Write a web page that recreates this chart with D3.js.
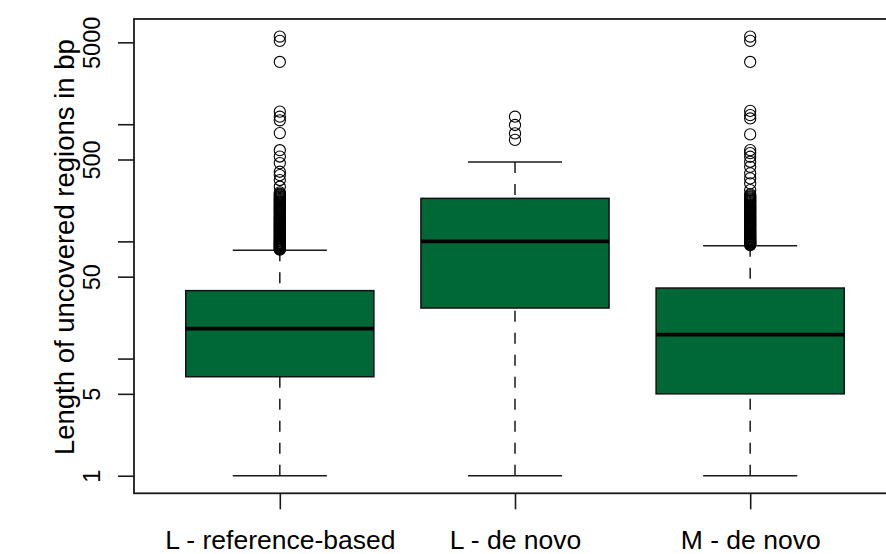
<!DOCTYPE html>
<html>
<head>
<meta charset="utf-8">
<script src="https://cdn.jsdelivr.net/npm/d3@7"></script>
<style>
  html, body { margin: 0; padding: 0; background: #ffffff; }
  svg { display: block; }
  text { font-family: "Liberation Sans", Arial, Helvetica, sans-serif; fill: #000; }
</style>
</head>
<body>
<script>
// Box-plot summaries of uncovered region lengths (bp)
const categories = ["L - reference-based", "L - de novo", "M - de novo"];
const whiskerLow = [1, 1, 1];
const quartile1  = [7, 27, 5];
const medians    = [18, 100, 16];
const quartile3  = [38, 233, 40];
const whiskerHigh = [84, 475, 92];

// Points beyond the upper whisker, per category
const outliersRefL = [5600, 5150, 3400, 1280, 1160, 1080, 840, 600, 530, 466, 393, 368, 334, 293,
  262, 255, 250, 245, 240, 235, 230, 226, 222, 218, 214, 210, 206, 202, 198, 195, 192, 189,
  186, 183, 180, 177, 174, 171, 168, 165, 162, 160, 157, 155, 152, 150, 148, 145, 143, 141,
  139, 137, 135, 133, 131, 129, 127, 125, 123, 121, 120, 118, 116, 114, 113, 111, 110, 108,
  107, 105, 104, 102, 101, 100, 98, 97, 96, 95, 94, 93, 92, 91, 90, 89, 88, 87, 86, 85];
const outliersDenovoL = [1160, 985, 835, 735];
const outliersDenovoM = [5600, 5150, 3400, 1300, 1196, 1120, 819, 601, 567, 528, 478, 433, 381, 345, 313, 274,
  252, 247, 242, 237, 232, 228, 224, 220, 216, 212, 208, 204, 200, 197, 194, 191, 188, 185,
  182, 179, 176, 173, 170, 167, 164, 161, 159, 156, 154, 151, 149, 147, 144, 142, 140, 138,
  136, 134, 132, 130, 128, 126, 124, 122, 121, 119, 117, 115, 114, 112, 111, 109, 108, 106,
  105, 104, 102, 101, 100, 99, 98, 97, 96, 95, 94, 93];
const outliers = [outliersRefL, outliersDenovoL, outliersDenovoM];

// Axis ticks: every tick is marked, only some carry a label
const yTicks = [1, 5, 10, 50, 100, 500, 1000, 5000];
const yTickLabels = [1, 5, 50, 500, 5000];
const yTitle = "Length of uncovered regions in bp";

const width = 886, height = 554;
const plot = { left: 134, right: 896, top: 19, bottom: 493.3 };
const boxFill = "#006837";
const font = "'Liberation Sans', Arial, Helvetica, sans-serif";

const svg = d3.select("body").append("svg")
  .attr("width", width).attr("height", height);

// x: category positions 1..n, padded by 4% like base graphics
const n = categories.length;
const xPad = 0.04 * n;
const x = d3.scaleLinear()
  .domain([0.5 - xPad, n + 0.5 + xPad])
  .range([plot.left, plot.right]);

// y: log scale spanning all values, padded by 4% in log space
const allVals = whiskerLow.concat(whiskerHigh, ...outliers);
const lmin = Math.log10(d3.min(allVals));
const lmax = Math.log10(d3.max(allVals));
const lpad = 0.04 * (lmax - lmin);
const y = d3.scaleLog()
  .domain([Math.pow(10, lmin - lpad), Math.pow(10, lmax + lpad)])
  .range([plot.bottom, plot.top]);

const boxHalf = 0.4, capHalf = 0.2;
const lineCol = "#1a1a1a";

const groups = svg.append("g").selectAll("g")
  .data(categories.map((c, i) => ({
    name: c, pos: i + 1,
    lo: whiskerLow[i], q1: quartile1[i], med: medians[i], q3: quartile3[i], hi: whiskerHigh[i],
    out: outliers[i]
  })))
  .join("g");

// dashed whiskers, drawn from the whisker end towards the box
groups.append("line")
  .attr("x1", d => x(d.pos)).attr("x2", d => x(d.pos))
  .attr("y1", d => y(d.hi)).attr("y2", d => y(d.q3))
  .attr("stroke", lineCol).attr("stroke-width", 1.5).attr("stroke-dasharray", "11,11");
groups.append("line")
  .attr("x1", d => x(d.pos)).attr("x2", d => x(d.pos))
  .attr("y1", d => y(d.lo)).attr("y2", d => y(d.q1))
  .attr("stroke", lineCol).attr("stroke-width", 1.5).attr("stroke-dasharray", "11,11");

// staples
["hi", "lo"].forEach(k => {
  groups.append("line")
    .attr("x1", d => x(d.pos - capHalf)).attr("x2", d => x(d.pos + capHalf))
    .attr("y1", d => y(d[k])).attr("y2", d => y(d[k]))
    .attr("stroke", lineCol).attr("stroke-width", 1.5);
});

// boxes
groups.append("rect")
  .attr("x", d => x(d.pos - boxHalf))
  .attr("width", d => x(d.pos + boxHalf) - x(d.pos - boxHalf))
  .attr("y", d => y(d.q3))
  .attr("height", d => y(d.q1) - y(d.q3))
  .attr("fill", boxFill).attr("stroke", "#111").attr("stroke-width", 1.5);

// medians
groups.append("line")
  .attr("x1", d => x(d.pos - boxHalf)).attr("x2", d => x(d.pos + boxHalf))
  .attr("y1", d => y(d.med)).attr("y2", d => y(d.med))
  .attr("stroke", "#000").attr("stroke-width", 3.8);

// outliers
groups.each(function (d) {
  d3.select(this).selectAll("circle")
    .data(d.out)
    .join("circle")
    .attr("cx", x(d.pos))
    .attr("cy", v => y(v))
    .attr("r", 5.6)
    .attr("fill", "none")
    .attr("stroke", "#000")
    .attr("stroke-width", 1.1);
});

// plot frame
svg.append("rect")
  .attr("x", plot.left).attr("y", plot.top)
  .attr("width", plot.right - plot.left).attr("height", plot.bottom - plot.top)
  .attr("fill", "none").attr("stroke", lineCol).attr("stroke-width", 1.8);

// y axis ticks
const yAxis = d3.axisLeft(y)
  .tickValues(yTicks)
  .tickSize(16)
  .tickFormat(v => yTickLabels.includes(v) ? String(v) : "");
const gy = svg.append("g")
  .attr("transform", `translate(${plot.left},0)`)
  .call(yAxis);
gy.select(".domain").remove();
gy.selectAll(".tick line").attr("stroke", lineCol).attr("stroke-width", 1.6);
gy.selectAll(".tick text")
  .attr("x", null).attr("dy", null)
  .attr("text-anchor", "middle")
  .attr("transform", "translate(-34,0) rotate(-90)")
  .style("font-size", "23.5px")
  .style("font-family", font)
  .attr("fill", "#000");

// x axis ticks and category labels
const xAxis = d3.axisBottom(x)
  .tickValues(d3.range(1, n + 1))
  .tickSize(16)
  .tickFormat(i => categories[i - 1]);
const gx = svg.append("g")
  .attr("transform", `translate(0,${plot.bottom})`)
  .call(xAxis);
gx.select(".domain").remove();
gx.selectAll(".tick line").attr("stroke", lineCol).attr("stroke-width", 1.6);
gx.selectAll(".tick text")
  .attr("y", 56).attr("dy", null)
  .style("font-size", "26.5px")
  .style("font-family", font)
  .attr("fill", "#000");

// y axis title
svg.append("text")
  .attr("transform", `translate(74,${(plot.top + plot.bottom) / 2 - 9}) rotate(-90)`)
  .attr("text-anchor", "middle")
  .style("font-size", "27.5px")
  .style("font-family", font)
  .text(yTitle);
</script>
</body>
</html>
